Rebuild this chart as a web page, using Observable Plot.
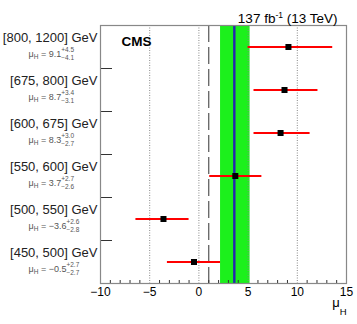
<!DOCTYPE html>
<html>
<head>
<meta charset="utf-8">
<script src="https://cdn.jsdelivr.net/npm/d3@7"></script>
<script src="https://cdn.jsdelivr.net/npm/@observablehq/plot@0.6"></script>
<style>
  html, body { margin: 0; padding: 0; background: #fff; }
  svg { display: block; }
</style>
</head>
<body>
<div id="chart"></div>
<script>
// ---- data ----
const bins = ["[800, 1200] GeV", "[675, 800] GeV", "[600, 675] GeV", "[550, 600] GeV", "[500, 550] GeV", "[450, 500] GeV"];
const muValues = [9.1, 8.7, 8.3, 3.7, -3.6, -0.5];
const errUp = [4.5, 3.4, 3.0, 2.7, 2.6, 2.7];
const errDown = [4.1, 3.1, 2.7, 2.6, 2.8, 2.7];
const combinedMu = [3.6];
const combinedLo = [2.2];
const combinedHi = [5.2];
const referenceLine = [1];
const gridX = [-5, 0, 5, 10];
const xTicks = [-10, -5, 0, 5, 10, 15];
const minorTicks = [-9, -8, -7, -6, -4, -3, -2, -1, 1, 2, 3, 4, 6, 7, 8, 9, 11, 12, 13, 14];
const titleText = "137 fb^{-1} (13 TeV)";
const experiment = "CMS";
const xLabel = "μ_H";

// ---- layout ----
const W = 357, H = 324;
const mL = 100, mR = 11, mT = 25, mB = 41;
const frameW = W - mL - mR, frameH = H - mT - mB;
const font = "'Liberation Sans', Arial, Helvetica, sans-serif";

const fmt = v => (v < 0 ? "−" : "") + Math.abs(v).toFixed(1);
const rows = bins.map((b, i) => ({
  bin: b, pos: i + 0.5, mu: muValues[i],
  lo: muValues[i] - errDown[i], hi: muValues[i] + errUp[i],
  label: `μ_H = ${fmt(muValues[i])}^{+${errUp[i].toFixed(1)}}_{−${errDown[i].toFixed(1)}}`
}));
const separators = bins.slice(1).map((b, i) => i + 1);
const band = combinedLo.map((lo, i) => ({lo, hi: combinedHi[i]}));

const svg = Plot.plot({
  width: W, height: H,
  marginLeft: mL, marginRight: mR, marginTop: mT, marginBottom: mB,
  style: {fontFamily: font, fontSize: "12px", color: "#000", background: "#fff"},
  x: {domain: [-10, 15], ticks: xTicks, tickSize: 0, tickPadding: 4, label: null,
      tickFormat: d => (d < 0 ? "−" : "") + Math.abs(d)},
  y: {domain: [bins.length, 0], axis: null},
  marks: [
    Plot.rect(band, {x1: "lo", x2: "hi", fill: "#1cf01c"}),
    Plot.ruleX(gridX, {stroke: "#888", strokeDasharray: "1,1.5"}),
    Plot.ruleX(referenceLine, {stroke: "#555", strokeWidth: 1.2, strokeDasharray: "17,5"}),
    Plot.ruleX(combinedMu, {stroke: "#2626b0", strokeWidth: 2.4}),
    Plot.tickY(separators, {y: d => d, stroke: "#333", insetRight: frameW - 12}),
    Plot.tickX(minorTicks, {x: d => d, stroke: "#333", insetTop: frameH - 3}),
    Plot.ruleY(rows, {y: "pos", x1: "lo", x2: "hi", stroke: "#ff0000", strokeWidth: 2}),
    Plot.dot(rows, {x: "mu", y: "pos", symbol: "square", r: 3.4, fill: "#000", stroke: null}),
    Plot.frame({stroke: "#888", strokeWidth: 1.2}),
    Plot.text(rows, {x: () => -10, y: "pos", text: "bin", textAnchor: "end", dx: -3, dy: -9.2, fontSize: 13, fill: "#222"}),
    Plot.text(rows, {x: () => -10, y: "pos", text: "label", textAnchor: "start", dx: -72, dy: 6.8, fontSize: 9, fill: "#555"}),
    Plot.text([titleText], {text: d => d, frameAnchor: "top-right", textAnchor: "end", dx: -9, dy: -12, fontSize: 13.5, fill: "#000"}),
    Plot.text([experiment], {text: d => d, frameAnchor: "top-left", textAnchor: "start", dx: 21, dy: 10.7, fontSize: 13.5, fontWeight: "bold", fill: "#000"}),
    Plot.text([xLabel], {text: d => d, frameAnchor: "bottom-right", textAnchor: "end", dx: 0, dy: 23, fontSize: 13, fill: "#000"})
  ]
});
document.getElementById("chart").append(svg);

// ---- rich text (sub/superscripts) ----
const NS = "http://www.w3.org/2000/svg";
function addSpan(el, t, attrs = {}) {
  const ts = document.createElementNS(NS, "tspan");
  ts.textContent = t;
  for (const k in attrs) ts.setAttribute(k, attrs[k]);
  el.append(ts);
  return ts;
}
for (const el of svg.querySelectorAll("text")) {
  const s = el.textContent;
  let m;
  if ((m = s.match(/^μ_H = (.+)\^\{(.+)\}_\{(.+)\}$/))) {
    el.textContent = "";
    addSpan(el, "μ");
    addSpan(el, "H", {"font-size": 6.5, dy: 2});
    addSpan(el, " = " + m[1], {dy: -2});
    const up = addSpan(el, m[2], {"font-size": 6.5, dy: -4.5});
    const dn = addSpan(el, m[3], {"font-size": 6.5, dy: 8});
    dn.setAttribute("dx", -up.getComputedTextLength());
  } else if (s === xLabel) {
    el.textContent = "";
    addSpan(el, "μ");
    addSpan(el, "H", {"font-size": 9.5, dy: 8});
  } else if (s === titleText) {
    el.textContent = "";
    addSpan(el, "137 fb");
    addSpan(el, "-1", {"font-size": 8.5, dy: -5});
    addSpan(el, " (13 TeV)", {dy: 5});
  }
}
</script>
</body>
</html>
